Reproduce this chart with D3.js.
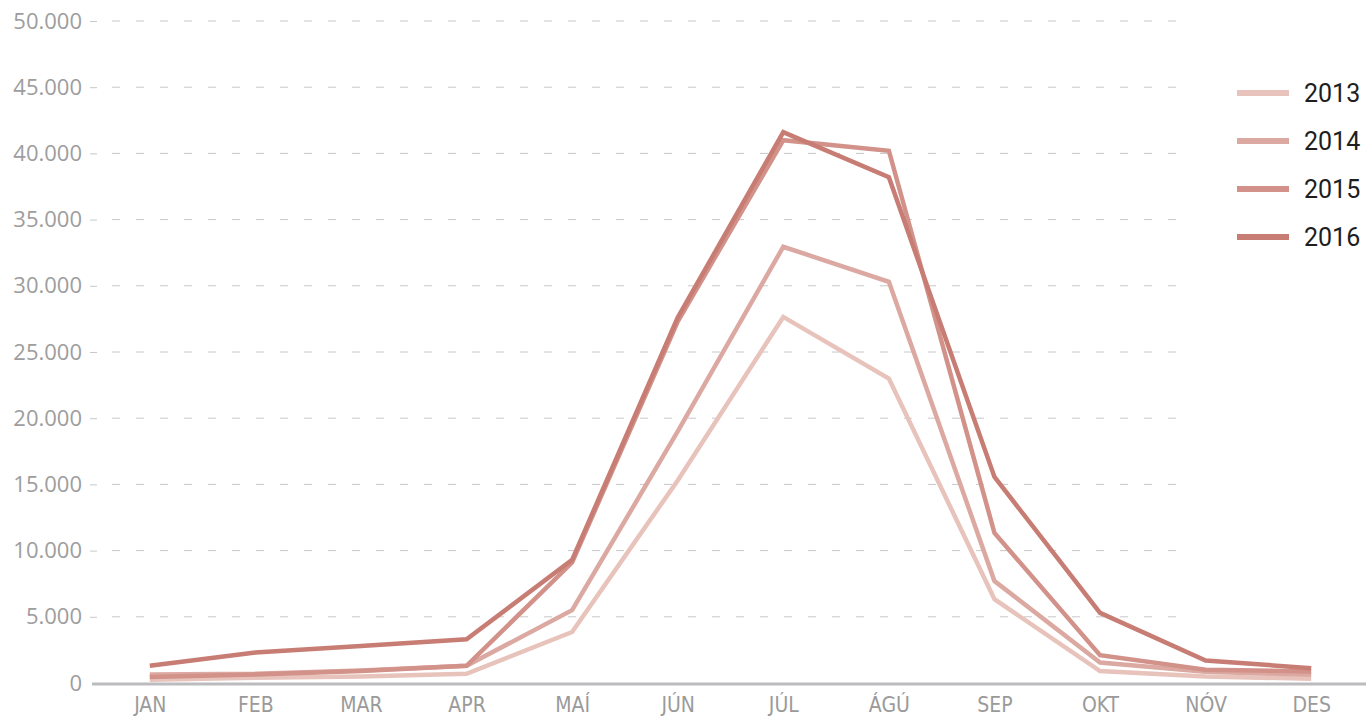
<!DOCTYPE html>
<html>
<head>
<meta charset="utf-8">
<script src="https://cdn.jsdelivr.net/npm/d3@7"></script>
<style>
  body { margin: 0; background: #fff; }
  .axis--y text { font-family: "Open Sans", sans-serif; font-size: 22px; fill: #9d9d9d; }
  .axis--x text { font-family: "Liberation Sans Narrow", "DejaVu Sans Condensed", sans-serif; font-size: 21px; fill: #9a9a9a; }
  .legend text { font-family: Roboto, sans-serif; font-size: 25px; font-weight: 400; fill: #1e1e1e; }
</style>
</head>
<body>
<div id="chart"></div>
<script>
// DATA
var months = ["JAN", "FEB", "MAR", "APR", "MAÍ", "JÚN", "JÚL", "ÁGÚ", "SEP", "OKT", "NÓV", "DES"];
var years = ["2013", "2014", "2015", "2016"];
var colors = ["#e7c3bb", "#dba9a1", "#d2928a", "#c77c74"];
var v2013 = [250, 400, 500, 700, 3850, 15300, 27650, 23000, 6330, 900, 500, 320];
var v2014 = [650, 700, 950, 1300, 5500, 19000, 32950, 30300, 7700, 1550, 850, 620];
var v2015 = [450, 650, 900, 1300, 9100, 27300, 41000, 40200, 11330, 2100, 1000, 870];
var v2016 = [1300, 2300, 2800, 3300, 9300, 27600, 41600, 38200, 15560, 5300, 1700, 1120];
var yTicks = [0, 5000, 10000, 15000, 20000, 25000, 30000, 35000, 40000, 45000, 50000];

(function () {
  var width = 1366, height = 718;
  var series = [v2013, v2014, v2015, v2016];

  var svg = d3.select("#chart").append("svg")
    .attr("width", width)
    .attr("height", height);

  var x = d3.scalePoint().domain(months).range([97, 1364]).padding(0.5),
    y = d3.scaleLinear().domain([0, 50000]).range([683, 21]);

  var fmt = function (d) { return d3.format(",")(d).replace(/,/g, "."); };

  // grid
  svg.append("g")
    .selectAll("line")
    .data(yTicks.slice(1))
    .enter().append("line")
    .attr("x1", 112)
    .attr("x2", 1192)
    .attr("y1", function (d) { return y(d); })
    .attr("y2", function (d) { return y(d); })
    .attr("stroke", "#c8c8c8")
    .attr("stroke-width", 1)
    .attr("stroke-dasharray", "8,16");

  // y axis
  var gy = svg.append("g")
    .attr("class", "axis axis--y")
    .attr("transform", "translate(97,0)")
    .call(d3.axisLeft(y).tickValues(yTicks).tickFormat(fmt).tickSize(7).tickPadding(8));
  gy.select(".domain").remove();
  gy.selectAll(".tick line").attr("stroke", "#c8c8c8").filter(function (d) { return d === 0; }).remove();

  // x axis
  var gx = svg.append("g")
    .attr("class", "axis axis--x")
    .attr("transform", "translate(0,684)")
    .call(d3.axisBottom(x).tickSize(0).tickPadding(13));
  gx.select(".domain").remove();

  svg.append("line")
    .attr("x1", 92).attr("x2", 1366)
    .attr("y1", y(0) + 1).attr("y2", y(0) + 1)
    .attr("stroke", "#bcbcbf")
    .attr("stroke-width", 3);

  // lines
  var line = d3.line()
    .x(function (d, i) { return x(months[i]); })
    .y(function (d) { return y(d); });

  svg.append("g")
    .selectAll("path")
    .data(series)
    .enter().append("path")
    .attr("d", line)
    .attr("fill", "none")
    .attr("stroke", function (d, i) { return colors[i]; })
    .attr("stroke-width", 4.5)
    .attr("stroke-linejoin", "miter");

  // legend
  var legend = svg.append("g")
    .attr("class", "legend")
    .selectAll("g")
    .data(years)
    .enter().append("g")
    .attr("transform", function (d, i) { return "translate(1237," + (93 + i * 48) + ")"; });

  legend.append("line")
    .attr("x1", 0).attr("x2", 52)
    .attr("stroke", function (d, i) { return colors[i]; })
    .attr("stroke-width", 6);

  legend.append("text")
    .attr("x", 67)
    .attr("dy", "0.36em")
    .text(function (d) { return d; });
})();
</script>
</body>
</html>
